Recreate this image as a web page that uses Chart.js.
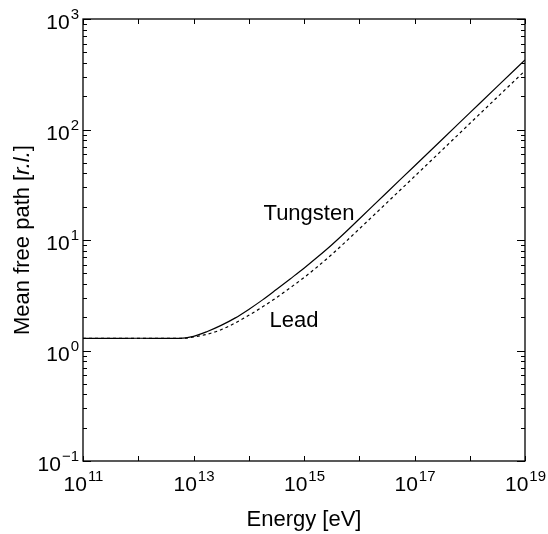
<!DOCTYPE html>
<html>
<head>
<meta charset="utf-8">
<script src="https://cdn.jsdelivr.net/npm/chart.js@4.4.0/dist/chart.umd.min.js"></script>
<style>
  html, body { margin: 0; padding: 0; background: #fff; }
  .wrap { width: 548px; height: 534px; position: relative; }
</style>
</head>
<body>
<div class="wrap"><canvas id="mfpChart"></canvas></div>
<script>
// energies in eV
const energies = [1e11, 3.16e11, 1e12, 3.16e12, 5.62e12, 1e13, 1.78e13, 3.16e13, 5.62e13, 1e14, 1.78e14,
    3.16e14, 5.62e14, 1e15, 1.78e15, 3.16e15, 5.62e15, 1e16, 3.16e16, 1e17, 3.16e17, 1e18, 3.16e18, 1e19];
// mean free path in radiation lengths
const tungsten = [1.288, 1.288, 1.291, 1.288, 1.288, 1.343, 1.486, 1.687, 1.963, 2.355, 2.871,
    3.565, 4.446, 5.559, 7.047, 9.016, 11.75, 15.49, 26.92, 46.77, 81.28, 141.3, 245.5, 425.6];
const lead = [1.288, 1.288, 1.288, 1.288, 1.288, 1.324, 1.406, 1.542, 1.770, 2.080, 2.483,
    3.006, 3.698, 4.571, 5.768, 7.379, 9.594, 12.59, 21.73, 37.58, 65.16, 113.2, 196.3, 340.4];

const xTickExps = [11, 12, 13, 14, 15, 16, 17, 18, 19];
const xLabelExps = [11, 13, 15, 17, 19];
const yTickExps = [-1, 0, 1, 2, 3];

const FONT = '"Liberation Sans", Arial, Helvetica, sans-serif';

const toPoints = (vals) => energies.map((e, i) => ({ x: e, y: vals[i] }));

function drawPower(ctx, exp, x, y, align) {
    const base = '10';
    const sup = exp < 0 ? '\u2212' + Math.abs(exp) : String(exp);
    ctx.font = `21px ${FONT}`;
    const wb = ctx.measureText(base).width;
    ctx.font = `15px ${FONT}`;
    const ws = ctx.measureText(sup).width;
    let start = x;
    if (align === 'center') start = x - (wb + ws) / 2;
    if (align === 'right') start = x - (wb + ws);
    ctx.textAlign = 'left';
    ctx.textBaseline = 'alphabetic';
    ctx.font = `21px ${FONT}`;
    ctx.fillText(base, start, y);
    ctx.font = `15px ${FONT}`;
    ctx.fillText(sup, start + wb + 1, y - 10);
}

const framePlugin = {
    id: 'frame',
    afterDraw(chart) {
        const { ctx, chartArea: a, scales } = chart;
        const xs = scales.x;
        const ys = scales.y;
        ctx.save();
        ctx.strokeStyle = '#000';
        ctx.fillStyle = '#000';
        ctx.lineWidth = 1.3;
        ctx.strokeRect(a.left, a.top, a.right - a.left, a.bottom - a.top);

        ctx.lineWidth = 1;
        ctx.beginPath();
        xTickExps.forEach((p) => {
            const px = Math.round(xs.getPixelForValue(Math.pow(10, p))) + 0.5;
            ctx.moveTo(px, a.bottom);
            ctx.lineTo(px, a.bottom - 5);
            ctx.moveTo(px, a.top);
            ctx.lineTo(px, a.top + 5);
        });
        yTickExps.forEach((p) => {
            for (let m = 1; m <= 9; m++) {
                if (p === 3 && m > 1) break;
                const py = Math.round(ys.getPixelForValue(m * Math.pow(10, p))) + 0.5;
                const len = m === 1 ? 8 : 4;
                ctx.moveTo(a.left, py);
                ctx.lineTo(a.left + len, py);
                ctx.moveTo(a.right, py);
                ctx.lineTo(a.right - len, py);
            }
        });
        ctx.stroke();

        xLabelExps.forEach((p) => {
            drawPower(ctx, p, xs.getPixelForValue(Math.pow(10, p)), a.bottom + 30, 'center');
        });
        yTickExps.forEach((p) => {
            drawPower(ctx, p, a.left - 5, ys.getPixelForValue(Math.pow(10, p)) + 10, 'right');
        });

        // axis titles
        ctx.font = `22px ${FONT}`;
        ctx.textAlign = 'center';
        ctx.textBaseline = 'alphabetic';
        ctx.fillText('Energy [eV]', (a.left + a.right) / 2, 526);

        const parts = [
            ['Mean free path [', `22px ${FONT}`],
            ['r.l.', `italic 22px ${FONT}`],
            [']', `22px ${FONT}`],
        ];
        let total = 0;
        parts.forEach(([t, f]) => { ctx.font = f; total += ctx.measureText(t).width; });
        ctx.translate(29, (a.top + a.bottom) / 2);
        ctx.rotate(-Math.PI / 2);
        ctx.textAlign = 'left';
        let cx = -total / 2;
        parts.forEach(([t, f]) => {
            ctx.font = f;
            ctx.fillText(t, cx, 0);
            cx += ctx.measureText(t).width;
        });
        ctx.setTransform(1, 0, 0, 1, 0, 0);

        // curve labels
        ctx.font = `22px ${FONT}`;
        ctx.textAlign = 'center';
        ctx.textBaseline = 'middle';
        ctx.fillText('Tungsten', xs.getPixelForValue(1.23e15), ys.getPixelForValue(17.2));
        ctx.fillText('Lead', xs.getPixelForValue(6.6e14), ys.getPixelForValue(1.85));
        ctx.restore();
    },
};

new Chart(document.getElementById('mfpChart'), {
    type: 'line',
    data: {
        datasets: [
            {
                label: 'Tungsten',
                data: toPoints(tungsten),
                borderColor: '#000',
                borderWidth: 1.2,
                pointRadius: 0,
                cubicInterpolationMode: 'monotone',
                fill: false,
            },
            {
                label: 'Lead',
                data: toPoints(lead),
                borderColor: '#000',
                borderWidth: 1.2,
                borderDash: [3, 3],
                pointRadius: 0,
                cubicInterpolationMode: 'monotone',
                fill: false,
            },
        ],
    },
    options: {
        responsive: true,
        maintainAspectRatio: false,
        animation: false,
        layout: { padding: { left: 83, right: 23, top: 19, bottom: 73 } },
        plugins: { legend: { display: false }, tooltip: { enabled: false } },
        scales: {
            x: { type: 'logarithmic', min: 1e11, max: 1e19, display: false },
            y: { type: 'logarithmic', min: 0.1, max: 1000, display: false },
        },
    },
    plugins: [framePlugin],
});
</script>
</body>
</html>
